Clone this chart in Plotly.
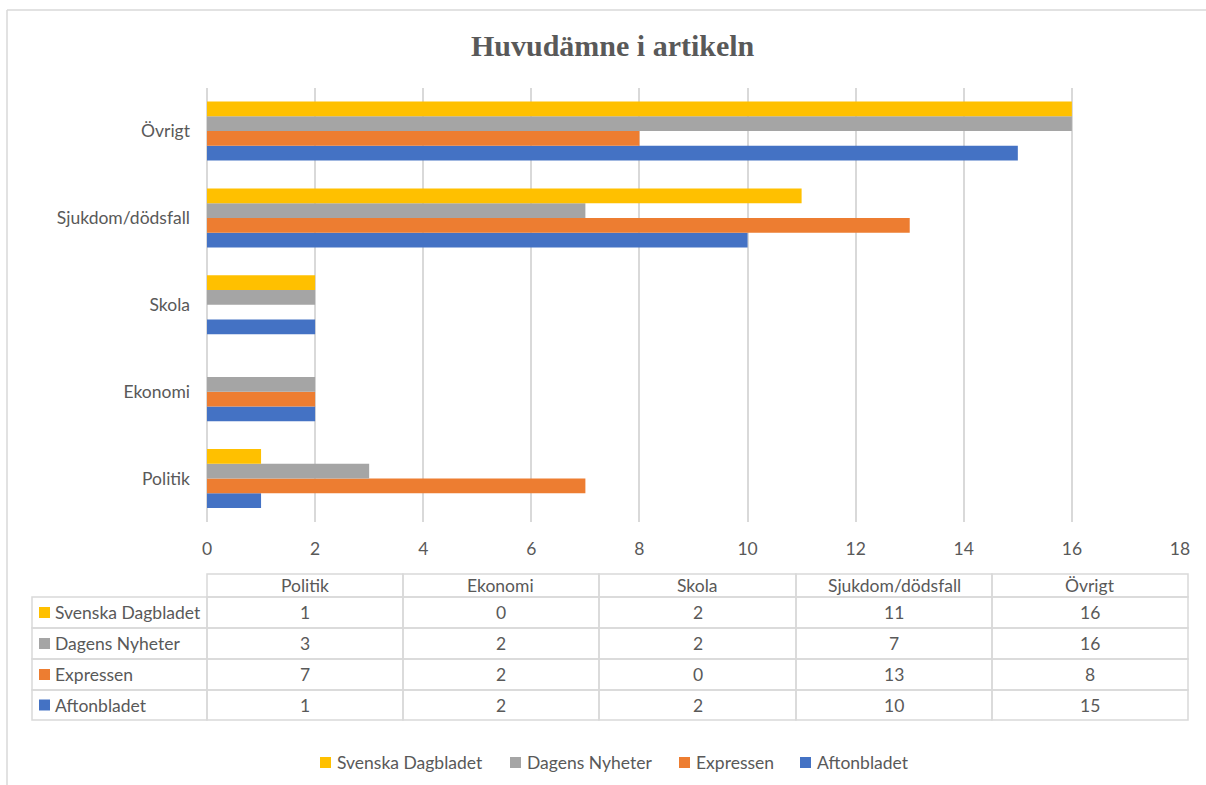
import plotly.graph_objects as go

W, H = 1206, 785

categories = ["Politik", "Ekonomi", "Skola", "Sjukdom/dödsfall", "Övrigt"]
series_names = ["Svenska Dagbladet", "Dagens Nyheter", "Expressen", "Aftonbladet"]
svenska_dagbladet = [1, 0, 2, 11, 16]
dagens_nyheter = [3, 2, 2, 7, 16]
expressen = [7, 2, 0, 13, 8]
aftonbladet = [1, 2, 2, 10, 15]
series_values = [svenska_dagbladet, dagens_nyheter, expressen, aftonbladet]
series_colors = ["#FFC000", "#A5A5A5", "#ED7D31", "#4472C4"]
x_ticks = [0, 2, 4, 6, 8, 10, 12, 14, 16, 18]

FONT = "Lato"
FS = 17.5
TXT = "#595959"
GRID = "#D9D9D9"

# the rendered page maps paper x to about 5 + 1191 * fraction
X_OFF, X_SPAN = 5, 1191


def px(p):
    return (p - X_OFF) / X_SPAN


def py(p):
    return 1 - p / H


fig = go.Figure()
# plotly places the first trace lowest in a horizontal group -> add in reverse
for name, vals, col in reversed(list(zip(series_names, series_values, series_colors))):
    fig.add_trace(go.Bar(
        y=categories, x=vals, name=name, orientation="h",
        marker=dict(color=col, line=dict(width=0)),
        showlegend=False,
    ))

shapes = []
annotations = []


def txt(x, y, s, anchor="center"):
    annotations.append(dict(xref="paper", yref="paper", x=px(x), y=py(y),
                            xanchor=anchor, yanchor="middle", text=s, showarrow=False,
                            font=dict(family=FONT, size=FS, color=TXT)))


# outer chart frame (top and left visible)
shapes.append(dict(type="line", xref="paper", yref="paper", x0=px(7), x1=px(1230),
                   y0=py(10), y1=py(10), line=dict(color="#D9D9D9", width=1.5)))
shapes.append(dict(type="line", xref="paper", yref="paper", x0=px(7), x1=px(7),
                   y0=py(10), y1=py(800), line=dict(color="#D9D9D9", width=1.5)))

# data table
col_edges = [207, 403, 599, 796, 992, 1188]
label_left = 32
header_top, header_bot = 574, 597
row_edges = [597, 628, 659, 690, 720]
tcol = "#D9D9D9"

for i in range(len(col_edges) - 1):
    shapes.append(dict(type="rect", xref="paper", yref="paper",
                       x0=px(col_edges[i]), x1=px(col_edges[i + 1]),
                       y0=py(header_bot), y1=py(header_top),
                       line=dict(color=tcol, width=1.5)))
    txt((col_edges[i] + col_edges[i + 1]) / 2, (header_top + header_bot) / 2, categories[i])

all_edges = [label_left] + col_edges
for r, (name, vals, col) in enumerate(zip(series_names, series_values, series_colors)):
    top, bot = row_edges[r], row_edges[r + 1]
    for i in range(len(all_edges) - 1):
        shapes.append(dict(type="rect", xref="paper", yref="paper",
                           x0=px(all_edges[i]), x1=px(all_edges[i + 1]),
                           y0=py(bot), y1=py(top),
                           line=dict(color=tcol, width=1.5)))
    cy = (top + bot) / 2
    shapes.append(dict(type="rect", xref="paper", yref="paper",
                       x0=px(39), x1=px(50), y0=py(cy + 5.5), y1=py(cy - 5.5),
                       fillcolor=col, line=dict(width=0)))
    txt(53, cy, name, "left")
    for i, v in enumerate(vals):
        txt((col_edges[i] + col_edges[i + 1]) / 2, cy, str(v))

# legend (drawn manually for Excel-like tight spacing)
legend_marker_x = [320, 510, 679, 800]
ly = 762.5
for name, col, mx in zip(series_names, series_colors, legend_marker_x):
    shapes.append(dict(type="rect", xref="paper", yref="paper",
                       x0=px(mx), x1=px(mx + 11), y0=py(ly + 5.5), y1=py(ly - 5.5),
                       fillcolor=col, line=dict(width=0)))
    txt(mx + 15, ly, name, "left")

fig.update_layout(
    width=W, height=H, autosize=False,
    margin=dict(l=0, r=0, t=0, b=0),
    paper_bgcolor="white", plot_bgcolor="white",
    barmode="group", bargap=0.32, bargroupgap=0,
    showlegend=False,
    title=dict(text="<b>Huvudämne i artikeln</b>", x=px(610), xanchor="center",
               y=py(45), yanchor="middle",
               font=dict(family="Liberation Serif", size=30, color=TXT)),
    xaxis=dict(domain=[px(207), px(1180)], range=[0, 18], tickvals=x_ticks,
               showgrid=True, gridcolor=GRID, gridwidth=1.5,
               zeroline=True, zerolinecolor=GRID, zerolinewidth=1.5,
               showline=False, ticks="", ticklabelstandoff=14,
               tickfont=dict(family=FONT, size=FS, color=TXT)),
    yaxis=dict(domain=[py(522), py(87.6)], categoryorder="array", categoryarray=categories,
               showgrid=False, showline=False, ticks="", ticklabelstandoff=16,
               tickfont=dict(family=FONT, size=FS, color=TXT)),
    shapes=shapes, annotations=annotations,
)

fig.write_html(
    "out.html",
    config={"displayModeBar": False, "responsive": False},
    post_script=("document.documentElement.style.overflow='hidden';"
                 "document.body.style.overflow='hidden';"
                 "document.body.style.margin='0';"),
)
